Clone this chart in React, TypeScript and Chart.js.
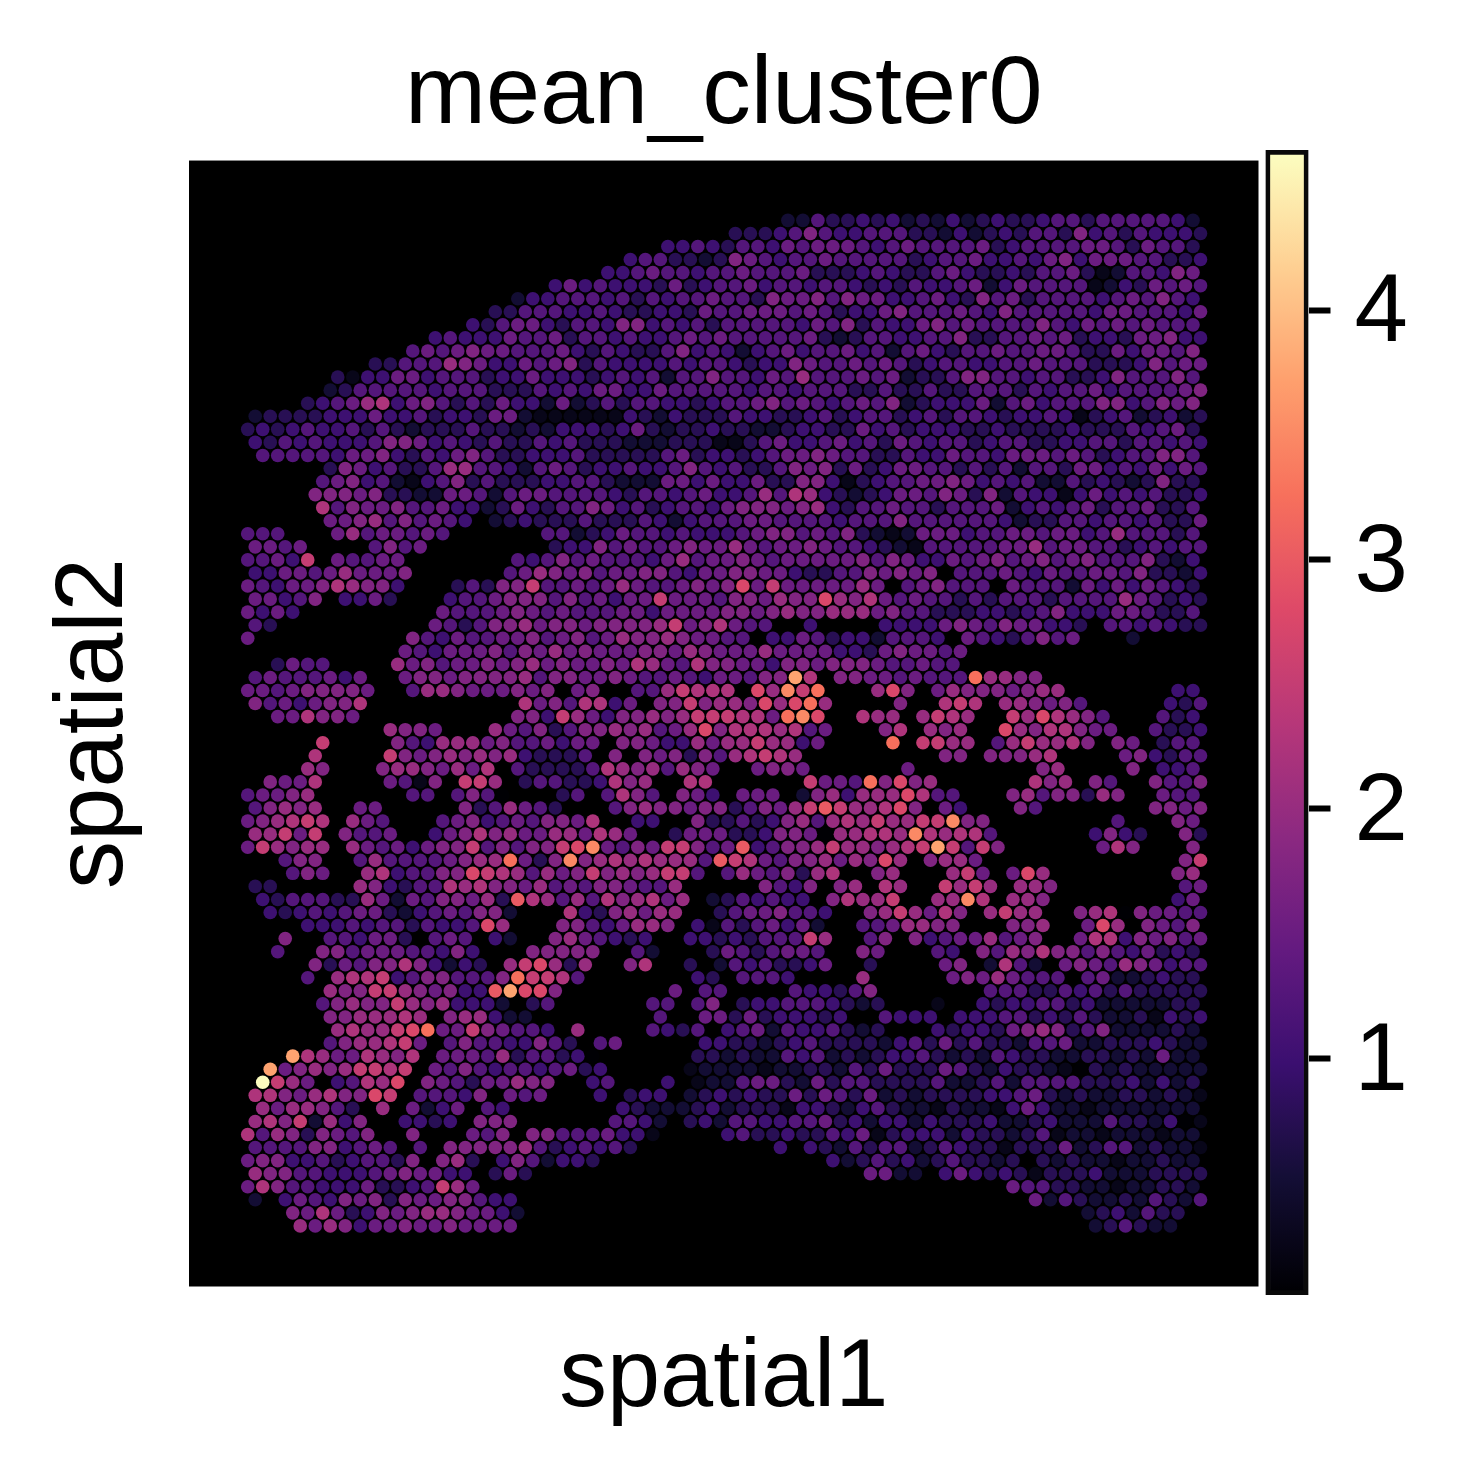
import React, { useEffect, useRef } from "react";
import { Chart, registerables } from "chart.js";

Chart.register(...registerables);

const titleText = "mean_cluster0";
const xAxisLabel = "spatial1";
const yAxisLabel = "spatial2";
const colorbarTicks = [1, 2, 3, 4];

// matplotlib "magma" anchors at t = 0, 0.1, ... 1
const magmaStops = ["#000004", "#140e36", "#3b0f70", "#641a80", "#8c2981", "#b73779", "#de4968", "#f7705c", "#fe9f6d", "#fecf92", "#fcfdbf"];
const colorMin = 0.06;
const colorMax = 4.63;
// each level character stands for (index in this alphabet) x 0.25 expression units
const levelAlphabet = "0123456789abcdefghij";
const levelUnit = 0.25;

// One entry per array row (spatial2): space separated "column:levels" runs (spatial1 column, then one level per spot)
const spotRows = [
  "36:2253343423242343345535555542",
  "32:33345754455533242343553745354443",
  "28:445435546566654565555634555566536553",
  "25:455332376545565555534556445467466655334",
  "24:4456554556555633345433564334355631255476",
  "20:46454443634556455455434354456246555512436565",
  "18:2445554535455655376675766445643756355554565754",
  "16:335554454334436556665653446755565475555546655546",
  "15:4356643554774545355555465735446756555575465656555",
  "12:4544465563554544565655555632355445573355656344366744",
  "11:56567665556435433574542456455645256435565566533646657",
  "8:33555876446567354444545543447655656534554455655533347566",
  "6:3144664555344644434545255755465855565623357755455334755575",
  "5:23555554555333545466446555554554555335335335553545564555567",
  "4:345689467535364426235355443455675654565723444625645557745767",
  "0:2333344464453443662111111432433354433453455345355434454134523423",
  "0:3434544535323335332324443463233433223443364534443343333433354563",
  "0:4354544457764543533545333222333113564456453654553455334455355454",
  "1:555554667435467533444533333563443456676553354465546665653455775",
  "5:37645335885542565344544575453357673634665535352553664546465",
  "5:56745214573533344553222664644633774134556676454522534323733",
  "4:777673322665256655554355456445859843234665763725441464545334",
  "5:95766755644236435576453455467776784355655355562454563556335",
  "5:6678575654 16:234333533354245556655554555755555542335545545336",
  "0:555 6:68566565 20:55234655454445677565732126664556656645855535",
  "0:6656 8:5756 20:34475655676686566765543215555566856655345455",
  "0:5564a 6:65566 18:5457565554685667656666675764465675675675557324",
  "0:44665686667 17:56876756677546677664335576767 47:55565465566573324",
  "0:65466798774 14:35377a5565686556767b6a6666686 44:567555 51:6555264646543",
  "0:66457 6:4463 13:45567775756466a6665776877b8796565535355535555865343",
  "0:6464 13:655567656555664666677678778886755333443457444665335",
  "0:53 12:6535778677677778a679655 37:4 42:44446765766443 57:5545433",
  "0:6 11:75465566756756877876655 35:446534425554 48:65435756 59:2",
  "10:65466675768676667768766686666443676656",
  "2:3655 10:867566767867667698659776647767 40:77655655",
  "0:56555646 10:6776777785 20:7766765565466577f9 39:776656555d8877",
  "0:665677776 11:5887666767 22:67 26:558a999 34:b8ead 42:8b7 46:687776788 62:44",
  "0:75646779 18:96759946 27:77a7887b8bd8 43:7 46:9a9 50:887675 61:435",
  "2:669776 18:774a86477878aaa996deb 41:988 45:8a98 51:a8b9875 61:534",
  "9:8776 16:86573577878568b79998956 42:79 45:878 50:b8799766 60:5334",
  "5:a 10:75488867556466 25:776448688a8846 43:d 45:aa88 50:58a8897 58:76 61:355",
  "4:9 9:a7678787843335 24:7 26:76737589a98 46:77 49:77789 58:674355",
  "4:87 9:78876869 18:53333598785876 34:6776 44:6 53:78 59:7 61:445",
  "1:7669 9:6517 14:aa8 18:355334978 29:99 37:a665d7b78 52:978 56:75 60:7557",
  "0:56678 11:55 14:5750 21:35 24:5975 29:764 33:666 37:2784888b955 51:78577387 61:655",
  "0:57878 7:66 14:7358653 24:5787767735768aca889b7 46:64 51:75 60:7767",
  "0:6789a9 7:865 13:56745657769 26:44 30:733534785898a88aae77 58:5 62:76",
  "0:88a6a 6:7556 12:46797866886986 28:3666334776088998e98995 56:4743 62:73",
  "0:6a8788 7:86564677a57577abe6576aa756c45778a88789afa5a7 57:697 63:7",
  "2:577 7:5855556788d637e789898885ca965778687b8 45:7886 62:7a",
  "3:576 8:8945577ba985867a7878aa5 32:58657389 42:78 47:8a6 51:6b8 62:78",
  "0:33 7:8743559897768565776558 34:7547 39:78 42:98 46:a8a8 51:887 62:56",
  "1:43555338626577683c98585978968 31:2354544 39:7988a 46:88e9 51:887 62:46",
  "1:43454566324565772 21:94378688 31:35667554 41:78a8697 49:8a88 55:789076655",
  "4:444545535445b8 21:77546887 30:415356462 41:5568877 51:778 56:6b8 60:7657",
  "2:7 5:554663 12:565 16:42 20:7865434 29:44343555a8 41:57 44:745668567 55:699476756",
  "2:5 5:77566655474 19:77777 26:52 31:36535665 41:76 46:54 49:758797757546343",
  "4:736577974243 17:8ab838 25:79 29:3 31:25453346 41:3 46:67 49:2952 54:6765876455",
  "4:5 6:899a45775557daa95 30:43 33:5554 41:8 47:67686555 56:56223433",
  "5:877aa876744cfbb7 28:6 30:55 36:544357 49:555335453533333",
  "5:57877a8784442 19:35 27:55 30:57 33:3445554323 46:1 49:434455342222233",
  "5:7788898 13:788422 27:5 30:6636344434 42:5444 47:44455343532231434",
  "6:8988abd66a76554 22:8 27:5435 32:45625445323 46:434436787357222232",
  "5:57889a6 13:575544753 23:56 30:4433234533332453635332556223334322",
  "3:f98669879 13:66658355340 30:3323225452323445323254332233232622",
  "1:f67878aa9a 12:657545545634 29:12222122332536333653243321032322222",
  "1:ja86 6:4598b 12:765366877 23:45 28:4 30:1225663263553333522352555533342423",
  "0:99768977ba 11:55547 17:656 23:4 25:344 29:23434336365362323333445632322332321",
  "1:8688753 9:8 11:6246 16:54 25:432223423331443245322132214642212222222",
  "0:897a2847 10:4434 15:777 24:5542 29:34255445563424424333422342225332401",
  "0:958737657 11:7 15:657 19:775556441 32:45334335461344424332351221222122",
  "0:5555774565 11:5 13:7777785345453 35:4 37:4325 41:35523543313336235523221",
  "0:677445345537 13:783 17:4752443 39:4235342353323 53:32322122322",
  "0:877554445676644 16:363 41:6622 46:464343133342223333",
  "0:6975544463345a86 51:6553322122332",
  "0:2 2:4654767376677544 52:625322325325",
  "3:7696347678876642 56:2342533",
  "3:868746676676666 56:235322",
];

function hexToRgb(hex: string) {
  return [1, 3, 5].map((i) => parseInt(hex.slice(i, i + 2), 16));
}

function magma(t: number) {
  const c = Math.max(0, Math.min(1, t)) * (magmaStops.length - 1);
  const i = Math.min(magmaStops.length - 2, Math.floor(c));
  const f = c - i;
  const a = hexToRgb(magmaStops[i]);
  const b = hexToRgb(magmaStops[i + 1]);
  const m = a.map((v, n) => Math.round(v + (b[n] - v) * f));
  return `rgb(${m[0]},${m[1]},${m[2]})`;
}

function colorFor(v: number) {
  return magma((v - colorMin) / (colorMax - colorMin));
}

type Spot = { x: number; y: number; v: number };

const spots: Spot[] = [];
spotRows.forEach((row, r) => {
  row.split(" ").forEach((run) => {
    const [start, levels] = run.split(":");
    Array.from(levels).forEach((ch, i) => {
      const col = Number(start) + i;
      spots.push({ x: col * 2 + (r % 2), y: r, v: levelAlphabet.indexOf(ch) * levelUnit });
    });
  });
});

const FONT = '"Liberation Sans", Arial, sans-serif';

export default function App() {
  const mainRef = useRef<HTMLCanvasElement>(null);
  const barRef = useRef<HTMLCanvasElement>(null);

  useEffect(() => {
    const plotBackground = {
      id: "plotBackground",
      beforeDraw(chart: any) {
        const { ctx, chartArea: a } = chart;
        ctx.save();
        ctx.fillStyle = "#000";
        ctx.fillRect(a.left, a.top, a.right - a.left, a.bottom - a.top);
        ctx.restore();
      },
    };

    const main = new Chart(mainRef.current!, {
      type: "scatter",
      data: {
        datasets: [
          {
            data: spots.map((s) => ({ x: s.x, y: s.y })),
            pointBackgroundColor: spots.map((s) => colorFor(s.v)),
            pointBorderWidth: 0,
            pointRadius: 6.8,
          },
        ],
      },
      options: {
        responsive: false,
        animation: false,
        layout: { padding: { right: 199.5 } },
        plugins: {
          legend: { display: false },
          tooltip: { enabled: false },
          title: {
            display: true,
            fullSize: false,
            text: titleText,
            color: "#000",
            font: { family: FONT, size: 97.2, weight: "normal" },
            padding: { top: 37.5, bottom: 6.4 },
          },
        },
        scales: {
          x: {
            type: "linear",
            min: -7.827,
            max: 134.73,
            grid: { display: false },
            border: { display: false },
            ticks: { display: false },
            title: {
              display: true,
              text: xAxisLabel,
              color: "#000",
              font: { family: FONT, size: 95.5, weight: "normal" },
              padding: { top: 0, bottom: 38 },
            },
            afterFit: (s: any) => {
              s.height = 188.5;
            },
          },
          y: {
            type: "linear",
            reverse: true,
            min: -4.583,
            max: 81.64,
            grid: { display: false },
            border: { display: false },
            ticks: { display: false },
            title: {
              display: true,
              text: yAxisLabel,
              color: "#000",
              font: { family: FONT, size: 96, weight: "normal" },
              padding: { top: 38, bottom: 0 },
            },
            afterFit: (s: any) => {
              s.width = 189;
            },
          },
        },
      } as any,
      plugins: [plotBackground],
    });

    const bar = new Chart(barRef.current!, {
      type: "bar",
      data: {
        labels: [""],
        datasets: [
          {
            data: [[0.051, 4.6415]],
            barPercentage: 1,
            categoryPercentage: 1,
            borderWidth: 5,
            borderSkipped: false,
            borderColor: "#0a0a0a",
            backgroundColor: (ctx: any) => {
              const { chart } = ctx;
              const a = chart.chartArea;
              if (!a) return "#000";
              const g = chart.ctx.createLinearGradient(0, a.bottom - 5, 0, a.top + 5);
              magmaStops.forEach((c, i) => g.addColorStop(i / (magmaStops.length - 1), c));
              return g;
            },
          } as any,
        ],
      },
      options: {
        responsive: false,
        animation: false,
        layout: { padding: { top: 10, bottom: 15, left: 10.5, right: 0 } },
        plugins: { legend: { display: false }, tooltip: { enabled: false }, title: { display: false } },
        scales: {
          x: { type: "category", display: false },
          y: {
            type: "linear",
            position: "right",
            min: 0.051,
            max: 4.6415,
            border: { display: false },
            grid: { display: true, drawOnChartArea: false, drawTicks: true, tickLength: 22, tickWidth: 6, tickColor: "#000" },
            afterBuildTicks: (s: any) => {
              s.ticks = colorbarTicks.map((value) => ({ value }));
            },
            ticks: {
              color: "#000",
              padding: 24,
              font: { family: FONT, size: 96, weight: "normal", lineHeight: "10px" },
              autoSkip: false,
              maxRotation: 0,
              // an empty first line nudges the digit down to sit centred on its tick
              callback: (v: any) => ["", String(v)],
            },
            afterFit: (s: any) => {
              s.width = 149.5;
              s.paddingTop = 0;
              s.paddingBottom = 0;
            },
          },
        },
      } as any,
    });

    return () => {
      main.destroy();
      bar.destroy();
    };
  }, []);

  return (
    <div style={{ position: "absolute", left: 0, top: 0, width: 1458, height: 1475, overflow: "hidden", background: "#fff" }}>
      <canvas ref={mainRef} width={1458} height={1475} style={{ position: "absolute", left: 0, top: 0, display: "block" }} />
      <canvas ref={barRef} width={203} height={1170} style={{ position: "absolute", left: 1255, top: 140, display: "block" }} />
    </div>
  );
}
